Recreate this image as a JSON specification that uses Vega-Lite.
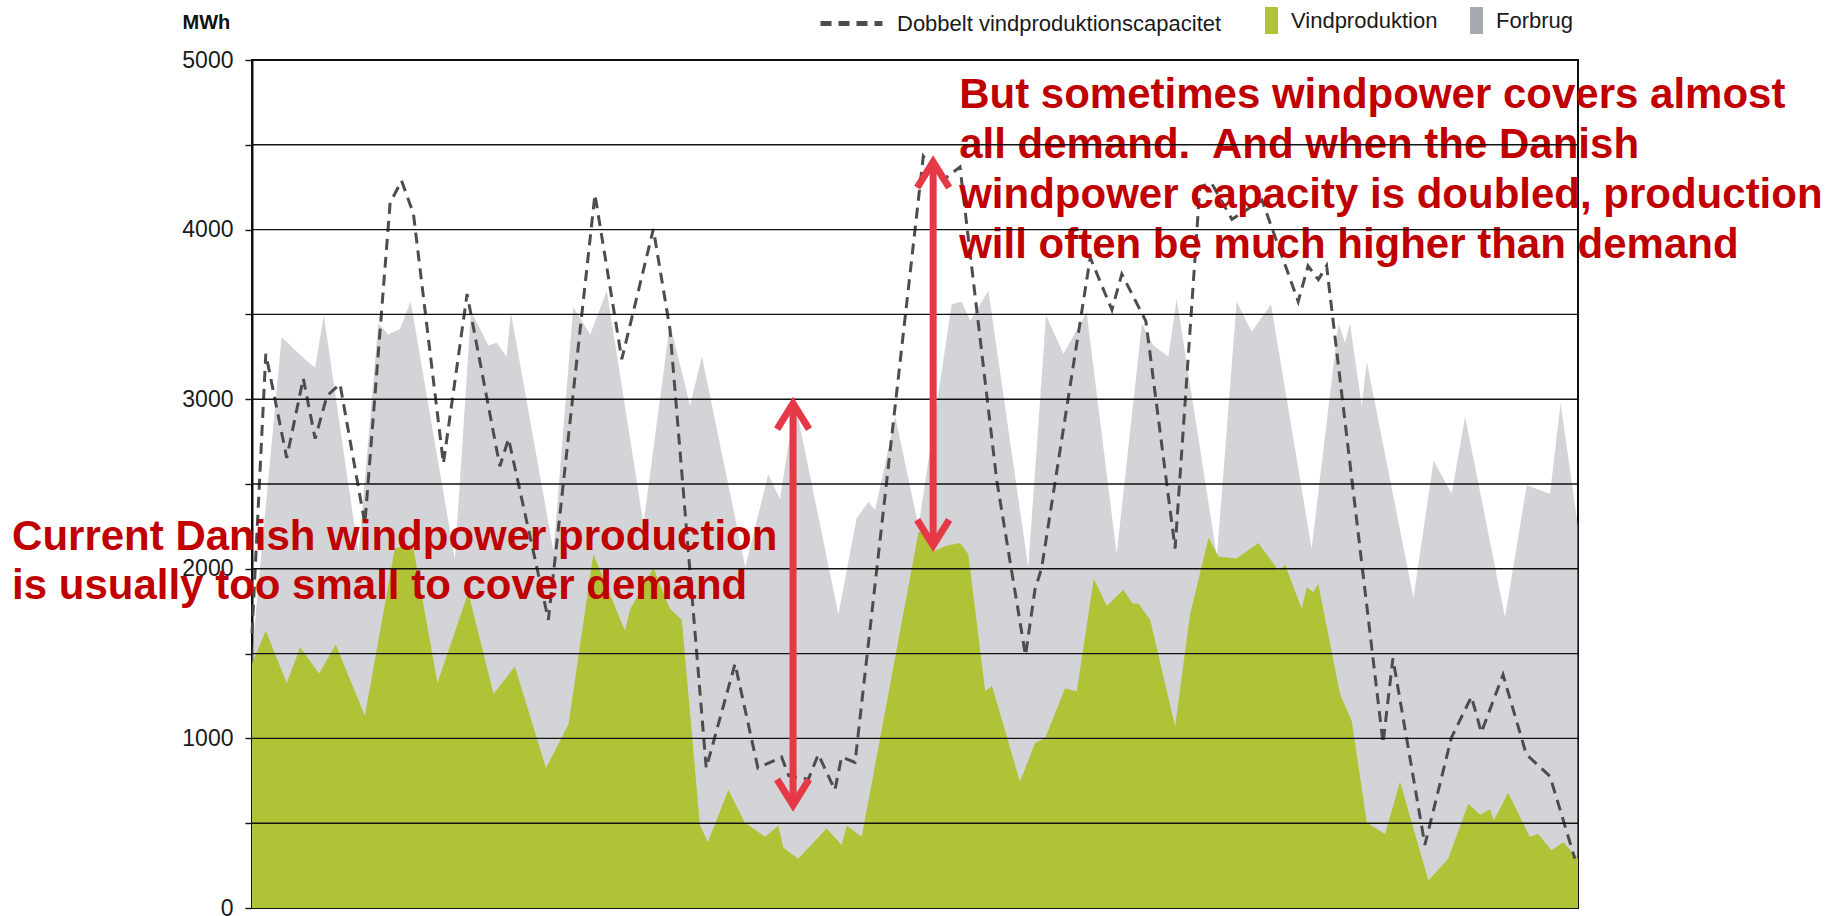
{
  "$schema": "https://vega.github.io/schema/vega-lite/v6.json",
  "width": 1326,
  "height": 848,
  "autosize": "none",
  "padding": {"left": 252, "top": 60, "right": 262, "bottom": 8},
  "background": "white",
  "config": {"view": {"stroke": "#111111", "strokeWidth": 2}, "font": "Liberation Sans"},
  "datasets": {
    "forbrug": [
      {"t":0,"mwh":1500},{"t":7.5,"mwh":3365},{"t":13.4,"mwh":3236},{"t":16,"mwh":3187},{"t":18.2,"mwh":3495},
      {"t":27,"mwh":2087},{"t":32,"mwh":3446},{"t":34.5,"mwh":3382},{"t":37.5,"mwh":3414},{"t":40.2,"mwh":3576},
      {"t":51.4,"mwh":2055},{"t":55.5,"mwh":3520},{"t":59.9,"mwh":3317},{"t":62,"mwh":3333},{"t":64.5,"mwh":3252},
      {"t":65.6,"mwh":3511},{"t":76.4,"mwh":2103},{"t":81.4,"mwh":3543},{"t":85.7,"mwh":3382},{"t":89.9,"mwh":3640},
      {"t":99.2,"mwh":2265},{"t":105.9,"mwh":3446},{"t":111,"mwh":2961},{"t":114,"mwh":3252},{"t":125,"mwh":2010},
      {"t":130.8,"mwh":2556},{"t":133.8,"mwh":2411},{"t":137.6,"mwh":2980},{"t":148.6,"mwh":1731},{"t":153.2,"mwh":2298},
      {"t":156.2,"mwh":2395},{"t":157.9,"mwh":2346},{"t":163,"mwh":2896},{"t":168.9,"mwh":2249},{"t":177.3,"mwh":3560},
      {"t":179.8,"mwh":3576},{"t":182,"mwh":3463},{"t":186.6,"mwh":3640},{"t":196.7,"mwh":2006},{"t":201.2,"mwh":3495},
      {"t":205.6,"mwh":3268},{"t":211.5,"mwh":3511},{"t":219.1,"mwh":2087},{"t":225.5,"mwh":3446},{"t":228.4,"mwh":3317},
      {"t":232.2,"mwh":3252},{"t":234.3,"mwh":3592},{"t":244.5,"mwh":2071},{"t":249.5,"mwh":3576},{"t":253.3,"mwh":3398},
      {"t":258.2,"mwh":3560},{"t":268.5,"mwh":2120},{"t":275.3,"mwh":3446},{"t":277,"mwh":3333},{"t":278.2,"mwh":3446},
      {"t":281.2,"mwh":2961},{"t":282.5,"mwh":3220},{"t":294.3,"mwh":1828},{"t":299.4,"mwh":2637},{"t":304,"mwh":2443},
      {"t":307.4,"mwh":2896},{"t":317.5,"mwh":1715},{"t":323,"mwh":2492},{"t":328.9,"mwh":2443},{"t":331.6,"mwh":2977},
      {"t":336,"mwh":2249}
    ],
    "vind": [
      {"t":0,"mwh":1440},{"t":3.5,"mwh":1634},{"t":8.8,"mwh":1327},{"t":12.2,"mwh":1537},{"t":17,"mwh":1382},
      {"t":21.2,"mwh":1553},{"t":28.6,"mwh":1133},{"t":36.2,"mwh":2120},{"t":38.8,"mwh":2136},{"t":40.9,"mwh":2120},
      {"t":47,"mwh":1327},{"t":54.8,"mwh":1860},{"t":61.2,"mwh":1262},{"t":66.6,"mwh":1424},{"t":74.5,"mwh":825},
      {"t":80.2,"mwh":1084},{"t":86.5,"mwh":2087},{"t":94.5,"mwh":1634},{"t":95.8,"mwh":1760},{"t":101.7,"mwh":2006},
      {"t":105.9,"mwh":1764},{"t":108.9,"mwh":1699},{"t":113.5,"mwh":490},{"t":115.5,"mwh":388},{"t":120.7,"mwh":696},
      {"t":124.9,"mwh":502},{"t":130,"mwh":420},{"t":133.4,"mwh":485},{"t":134.6,"mwh":356},{"t":138.4,"mwh":291},
      {"t":145.6,"mwh":469},{"t":149.4,"mwh":372},{"t":150.7,"mwh":485},{"t":154.5,"mwh":420},{"t":168.9,"mwh":2217},
      {"t":170.1,"mwh":2217},{"t":172.7,"mwh":2103},{"t":176,"mwh":2136},{"t":179.4,"mwh":2152},{"t":181.5,"mwh":2087},
      {"t":185.8,"mwh":1278},{"t":187.5,"mwh":1311},{"t":194.6,"mwh":744},{"t":198.4,"mwh":971},{"t":201,"mwh":1003},
      {"t":206,"mwh":1294},{"t":209,"mwh":1278},{"t":213.3,"mwh":1942},{"t":216.6,"mwh":1780},{"t":220.8,"mwh":1877},
      {"t":223.1,"mwh":1796},{"t":224.6,"mwh":1796},{"t":227.6,"mwh":1699},{"t":233.9,"mwh":1068},{"t":237.7,"mwh":1731},
      {"t":242.4,"mwh":2184},{"t":244.9,"mwh":2071},{"t":249.5,"mwh":2061},{"t":255,"mwh":2152},{"t":260.1,"mwh":1990},
      {"t":261.8,"mwh":2022},{"t":266,"mwh":1764},{"t":267.3,"mwh":1893},{"t":268.9,"mwh":1861},{"t":270.2,"mwh":1909},
      {"t":275.7,"mwh":1262},{"t":278.7,"mwh":1100},{"t":282.5,"mwh":502},{"t":287.1,"mwh":437},{"t":290.9,"mwh":744},
      {"t":298.1,"mwh":162},{"t":303.1,"mwh":291},{"t":308.2,"mwh":615},{"t":311.2,"mwh":550},{"t":313.7,"mwh":582},
      {"t":314.7,"mwh":518},{"t":318.3,"mwh":680},{"t":323.8,"mwh":420},{"t":325.9,"mwh":437},{"t":329.3,"mwh":340},
      {"t":332.3,"mwh":388},{"t":336,"mwh":291}
    ],
    "dobbelt": [
      {"t":0,"mwh":1618},{"t":3.5,"mwh":3268},{"t":8.8,"mwh":2654},{"t":13,"mwh":3123},{"t":16,"mwh":2767},
      {"t":19,"mwh":3020},{"t":22.3,"mwh":3090},{"t":28.6,"mwh":2266},{"t":35,"mwh":4158},{"t":37.9,"mwh":4288},
      {"t":40.9,"mwh":4094},{"t":48.5,"mwh":2621},{"t":54.5,"mwh":3620},{"t":62.8,"mwh":2605},{"t":65,"mwh":2767},
      {"t":75.1,"mwh":1699},{"t":86.9,"mwh":4207},{"t":93.7,"mwh":3236},{"t":101.7,"mwh":4003},{"t":105.9,"mwh":3414},
      {"t":115.1,"mwh":825},{"t":122.4,"mwh":1440},{"t":128.2,"mwh":825},{"t":134.2,"mwh":890},{"t":136,"mwh":780},
      {"t":141,"mwh":760},{"t":143.5,"mwh":906},{"t":147.7,"mwh":696},{"t":149.4,"mwh":890},{"t":152.8,"mwh":858},
      {"t":170.1,"mwh":4433},{"t":175,"mwh":4290},{"t":179.4,"mwh":4369},{"t":188.7,"mwh":2524},{"t":196,"mwh":1489},
      {"t":198.4,"mwh":1877},{"t":200.1,"mwh":2006},{"t":212.4,"mwh":3835},{"t":217.9,"mwh":3527},{"t":220.4,"mwh":3738},
      {"t":226.5,"mwh":3460},{"t":233.9,"mwh":2120},{"t":240.2,"mwh":4255},{"t":243.2,"mwh":4272},{"t":248.3,"mwh":4061},
      {"t":255.9,"mwh":4175},{"t":265.1,"mwh":3576},{"t":267.6,"mwh":3786},{"t":270.2,"mwh":3705},{"t":272.3,"mwh":3786},
      {"t":286.6,"mwh":971},{"t":289.1,"mwh":1472},{"t":297.2,"mwh":372},{"t":303.9,"mwh":1003},{"t":309,"mwh":1246},
      {"t":311.5,"mwh":1035},{"t":317,"mwh":1375},{"t":322.9,"mwh":906},{"t":328.9,"mwh":777},{"t":335.2,"mwh":291}
    ],
    "grid": [
      {"mwh":500},{"mwh":1000},{"mwh":1500},{"mwh":2000},{"mwh":2500},{"mwh":3000},{"mwh":3500},{"mwh":4000},{"mwh":4500}
    ]
  },
  "layer": [
    {
      "data": {"name": "forbrug"},
      "mark": {"type": "area", "fillOpacity": 0.5},
      "encoding": {
        "x": {"field": "t", "type": "quantitative", "scale": {"domain": [0, 336], "nice": false, "zero": false}, "axis": null},
        "y": {
          "field": "mwh", "type": "quantitative",
          "scale": {"domain": [0, 5000], "nice": false},
          "axis": {
            "title": "MWh", "titleFont": "Liberation Sans", "titleFontWeight": "bold", "titleFontSize": 20,
            "titleColor": "#111111", "titleAngle": 0, "titleAlign": "left", "titleBaseline": "alphabetic",
            "titleX": -70, "titleY": -32,
            "values": [0, 500, 1000, 1500, 2000, 2500, 3000, 3500, 4000, 4500, 5000],
            "labelExpr": "datum.value % 1000 === 0 ? format(datum.value, 'd') : ''",
            "labelFont": "Liberation Sans", "labelFontSize": 23, "labelColor": "#1a1a1a", "labelPadding": 12,
            "grid": false, "domainColor": "#111111", "domainWidth": 2,
            "tickColor": "#111111", "tickWidth": 1.4, "tickSize": 7
          }
        },
        "color": {
          "datum": "Forbrug", "type": "nominal",
          "scale": {"domain": ["Vindproduktion", "Forbrug"], "range": ["#b0c236", "#a6a9af"]},
          "legend": {
            "title": null, "orient": "none", "legendX": 1006, "legendY": -53, "direction": "horizontal",
            "symbolType": "M-0.48,-1H0.48V1H-0.48Z", "symbolSize": 729, "symbolStrokeWidth": 0,
            "labelFont": "Liberation Sans", "labelFontSize": 22, "labelColor": "#1a1a1a", "labelLimit": 600,
            "labelOffset": 6, "columnPadding": 25, "padding": 0, "offset": 0, "symbolOpacity": 1,
            "encode": {"symbols": {"update": {"opacity": {"value": 1}, "fillOpacity": {"value": 1}}}}
          }
        }
      }
    },
    {
      "data": {"name": "vind"},
      "mark": {"type": "area", "fillOpacity": 1},
      "encoding": {
        "x": {"field": "t", "type": "quantitative"},
        "y": {"field": "mwh", "type": "quantitative"},
        "color": {"datum": "Vindproduktion", "type": "nominal"}
      }
    },
    {
      "data": {"name": "dobbelt"},
      "mark": {"type": "line", "color": "#4d4d4d", "strokeWidth": 3},
      "encoding": {
        "x": {"field": "t", "type": "quantitative"},
        "y": {"field": "mwh", "type": "quantitative"},
        "strokeDash": {
          "datum": "Dobbelt vindproduktionscapacitet", "type": "nominal",
          "scale": {"range": [[11, 7]]},
          "legend": {
            "title": null, "orient": "none", "legendX": 566, "legendY": -70,
            "symbolType": "stroke", "symbolSize": 3844, "symbolStrokeWidth": 5, "symbolStrokeColor": "#4d4d4d",
            "labelFont": "Liberation Sans", "labelFontSize": 22, "labelColor": "#1a1a1a", "labelLimit": 600,
            "labelOffset": 12, "padding": 0, "offset": 0,
            "encode": {"symbols": {"update": {"strokeDash": {"value": [17, 4]}, "stroke": {"value": "#4d4d4d"}, "strokeWidth": {"value": 5}, "opacity": {"value": 1}}}}
          }
        }
      }
    },
    {
      "data": {"values": [{}]},
      "mark": {"type": "text", "align": "left", "baseline": "alphabetic", "font": "Liberation Sans", "fontWeight": "bold", "fontSize": 42, "lineHeight": 49, "color": "#c00000"},
      "encoding": {
        "x": {"datum": -60.8, "type": "quantitative"},
        "y": {"datum": 2111, "type": "quantitative"},
        "text": {"value": ["Current Danish windpower production", "is usually too small to cover demand"]}
      }
    },
    {
      "data": {"values": [{}]},
      "mark": {"type": "text", "align": "left", "baseline": "alphabetic", "font": "Liberation Sans", "fontWeight": "bold", "fontSize": 42, "lineHeight": 50, "color": "#c00000"},
      "encoding": {
        "x": {"datum": 179.2, "type": "quantitative"},
        "y": {"datum": 4717, "type": "quantitative"},
        "text": {"value": ["But sometimes windpower covers almost", "all demand.\u00a0 And when the Danish", "windpower capacity is doubled, production", "will often be much higher than demand"]}
      }
    },
    {
      "data": {"name": "grid"},
      "mark": {"type": "rule", "color": "#111111", "strokeWidth": 1.4},
      "encoding": {
        "y": {"field": "mwh", "type": "quantitative"}
      }
    },
    {
      "data": {"values": [{}]},
      "mark": {"type": "rule", "color": "#e63946", "strokeWidth": 7},
      "encoding": {
        "x": {"datum": 137.1, "type": "quantitative"},
        "y": {"datum": 2975, "type": "quantitative"},
        "y2": {"datum": 607}
      }
    },
    {
      "data": {"values": [{}]},
      "mark": {"type": "rule", "color": "#e63946", "strokeWidth": 7},
      "encoding": {
        "x": {"datum": 172.6, "type": "quantitative"},
        "y": {"datum": 4399, "type": "quantitative"},
        "y2": {"datum": 2138}
      }
    },
    {
      "data": {"values": [{}]},
      "mark": {"type": "point", "shape": "M-1,1.6L0,0L1,1.6", "filled": false, "stroke": "#e63946", "strokeWidth": 7, "size": 1024, "opacity": 1, "strokeJoin": "miter", "strokeCap": "butt"},
      "encoding": {
        "x": {"datum": 137.1, "type": "quantitative"},
        "y": {"datum": 2975, "type": "quantitative"}
      }
    },
    {
      "data": {"values": [{}]},
      "mark": {"type": "point", "shape": "M-1,-1.6L0,0L1,-1.6", "filled": false, "stroke": "#e63946", "strokeWidth": 7, "size": 1024, "opacity": 1, "strokeJoin": "miter", "strokeCap": "butt"},
      "encoding": {
        "x": {"datum": 137.1, "type": "quantitative"},
        "y": {"datum": 607, "type": "quantitative"}
      }
    },
    {
      "data": {"values": [{}]},
      "mark": {"type": "point", "shape": "M-1,1.6L0,0L1,1.6", "filled": false, "stroke": "#e63946", "strokeWidth": 7, "size": 1024, "opacity": 1, "strokeJoin": "miter", "strokeCap": "butt"},
      "encoding": {
        "x": {"datum": 172.6, "type": "quantitative"},
        "y": {"datum": 4399, "type": "quantitative"}
      }
    },
    {
      "data": {"values": [{}]},
      "mark": {"type": "point", "shape": "M-1,-1.6L0,0L1,-1.6", "filled": false, "stroke": "#e63946", "strokeWidth": 7, "size": 1024, "opacity": 1, "strokeJoin": "miter", "strokeCap": "butt"},
      "encoding": {
        "x": {"datum": 172.6, "type": "quantitative"},
        "y": {"datum": 2138, "type": "quantitative"}
      }
    }
  ]
}
